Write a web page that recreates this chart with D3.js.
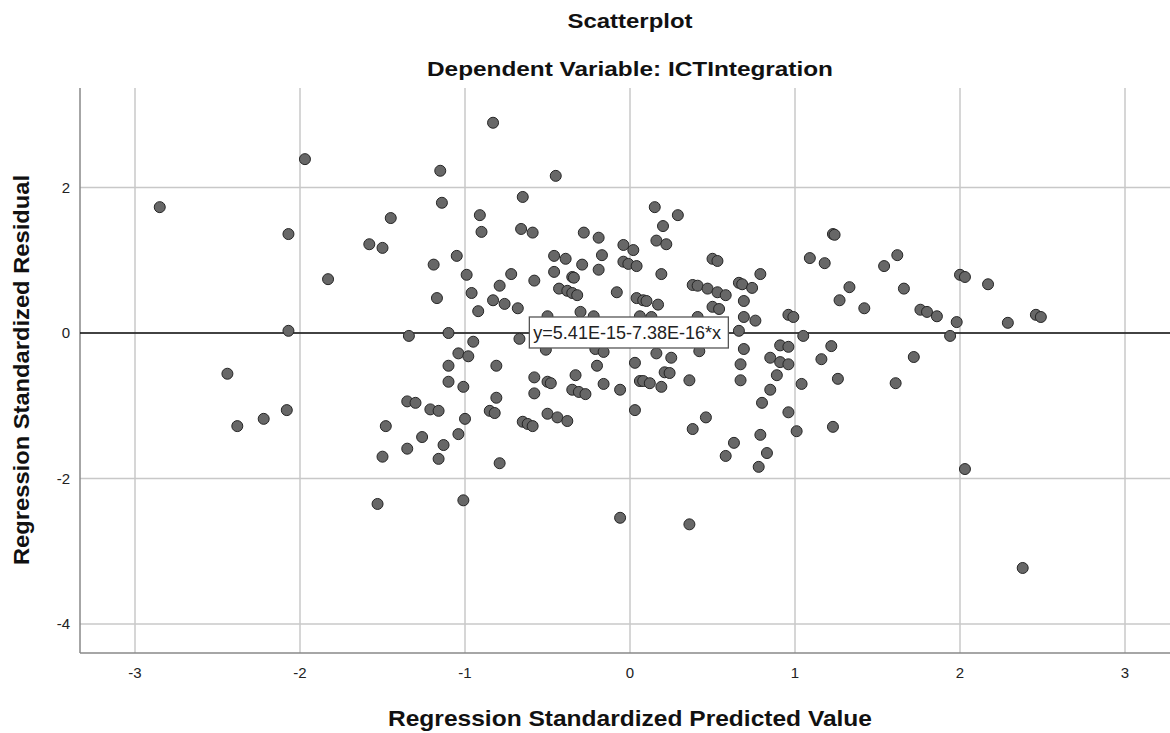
<!DOCTYPE html>
<html lang="en">
<head>
<meta charset="UTF-8">
<title>Scatterplot</title>
<script src="https://d3js.org/d3.v7.min.js"></script>
<style>
  body { margin: 0; background: #fff; }
  svg { display: block; font-family: Arial, "Liberation Sans", sans-serif; }
</style>
</head>
<body>
<svg id="chart" width="1170" height="733"></svg>
<script>
// Regression Standardized Predicted Value
const predicted = [
  -1.97, -2.85, -2.07, -1.83, -2.07, -2.44, -2.08, -2.22, -2.38,
  -0.83, -1.15, -0.45, -1.14, -0.65, -1.45, -0.91, -0.90, -1.58, -1.50,
  -0.66, -0.59, -0.28, -0.19, -0.04, 0.02, -1.19, -1.05, -0.46, -0.39,
  -0.29, -0.17, -0.19, -0.04, -0.01, 0.04, -0.99, -0.72, -0.46, -0.35,
  -0.34, -0.79, -0.58, -0.96, -1.17, -0.43, -0.38, -0.35, -0.32, -0.08,
  0.04, 0.08, 0.10, -0.83, -0.76, -0.68, -0.92, -0.50, -0.30, -0.22,
  -1.34, -1.10, -0.95, -0.67,
  -0.51, -1.04, -0.98, -1.10, -0.81, -0.21, -0.16, 0.03, -1.10, -1.01,
  -0.58, -0.50, -0.48, -0.33, -0.20, -0.16, 0.06, -0.58, -0.35, -0.31,
  -0.27, -0.06, -1.35, -1.30, -1.21, -1.16, -0.81, -0.85, -0.82, -0.65,
  -0.62, -0.59, -0.50, -0.44, -0.38, 0.03, -1.00, -1.48, -1.26, -1.04,
  -1.35, -1.13, -1.50, -1.16, -0.79, -1.53, -1.01, -0.06,
  0.15, 0.29, 0.20, 0.16, 0.22, 0.50, 0.53, 0.19, 0.38, 0.41, 0.47,
  0.53, 0.58, 0.66, 0.68, 0.74, 0.79, 0.69, 0.17, 0.50, 0.54, 0.41,
  0.69, 0.76, 0.96, 0.99, 0.66, 1.05, 1.23, 1.24, 1.09, 1.18, 1.54,
  1.62, 1.33, 1.27, 1.42, 1.66, 1.76, 0.06, 0.13,
  2.00, 2.03, 2.17, 1.80, 1.86, 1.98, 2.29, 2.46, 2.49, 1.94,
  0.42, 0.16, 0.25, 0.69, 0.91, 0.96, 1.22, 1.16, 1.72, 0.67, 0.85,
  0.91, 0.96, 0.08, 0.12, 0.19, 0.21, 0.24, 0.36, 0.67, 0.89, 1.04,
  0.85, 1.26, 1.61, 0.80, 0.96, 0.46, 0.38, 1.01, 1.23, 0.63, 0.79,
  0.83, 0.58, 0.78, 0.36, 2.03, 2.38
];

// Regression Standardized Residual
const residual = [
  2.39, 1.73, 1.36, 0.74, 0.03, -0.56, -1.06, -1.18, -1.28,
  2.89, 2.23, 2.16, 1.79, 1.87, 1.58, 1.62, 1.39, 1.22, 1.17,
  1.43, 1.38, 1.38, 1.31, 1.21, 1.14, 0.94, 1.06, 1.06, 1.02,
  0.94, 1.07, 0.87, 0.98, 0.95, 0.92, 0.80, 0.81, 0.84, 0.77,
  0.76, 0.65, 0.72, 0.55, 0.48, 0.61, 0.58, 0.55, 0.52, 0.56,
  0.48, 0.45, 0.44, 0.45, 0.40, 0.34, 0.30, 0.23, 0.29, 0.23,
  -0.04, 0.00, -0.12, -0.08,
  -0.23, -0.28, -0.32, -0.45, -0.45, -0.22, -0.26, -0.41, -0.67, -0.74,
  -0.61, -0.67, -0.69, -0.58, -0.45, -0.70, -0.66, -0.83, -0.78, -0.81,
  -0.84, -0.78, -0.94, -0.96, -1.05, -1.07, -0.89, -1.07, -1.10, -1.22,
  -1.25, -1.28, -1.11, -1.16, -1.21, -1.06, -1.18, -1.28, -1.43, -1.39,
  -1.59, -1.54, -1.70, -1.73, -1.79, -2.35, -2.30, -2.54,
  1.73, 1.62, 1.47, 1.27, 1.22, 1.02, 0.99, 0.81, 0.66, 0.65, 0.61,
  0.56, 0.52, 0.69, 0.67, 0.62, 0.81, 0.44, 0.39, 0.36, 0.33, 0.22,
  0.22, 0.17, 0.25, 0.22, 0.03, -0.04, 1.36, 1.35, 1.03, 0.96, 0.92,
  1.07, 0.63, 0.45, 0.34, 0.61, 0.32, 0.23, 0.22,
  0.80, 0.77, 0.67, 0.29, 0.23, 0.15, 0.14, 0.25, 0.22, -0.04,
  -0.25, -0.28, -0.34, -0.22, -0.17, -0.19, -0.18, -0.36, -0.33, -0.43, -0.34,
  -0.40, -0.43, -0.66, -0.69, -0.74, -0.54, -0.55, -0.65, -0.65, -0.58, -0.70,
  -0.78, -0.63, -0.69, -0.96, -1.09, -1.16, -1.32, -1.35, -1.29, -1.51, -1.40,
  -1.65, -1.69, -1.84, -2.63, -1.87, -3.23
];

const xTicks = [-3, -2, -1, 0, 1, 2, 3];
const yTicks = [-4, -2, 0, 2];

// fit line shown in the box
const intercept = 5.41E-15;
const slope = -7.38E-16;
const fitLabel = "y=5.41E-15-7.38E-16*x";

const titleText = "Scatterplot";
const subtitleText = "Dependent Variable: ICTIntegration";
const xLabel = "Regression Standardized Predicted Value";
const yLabel = "Regression Standardized Residual";

const svg = d3.select("#chart");

const plot = { left: 80, right: 1170, top: 88, bottom: 653 };

const x = d3.scaleLinear().domain([-3, 3]).range([135, 1125]);
const y = d3.scaleLinear().domain([-4, 2]).range([624, 187.5]);

const points = predicted.map((p, i) => [p, residual[i]]);

// grid
svg.append("g")
  .selectAll("line")
  .data(xTicks)
  .enter()
  .append("line")
  .attr("x1", d => x(d)).attr("x2", d => x(d))
  .attr("y1", plot.top).attr("y2", plot.bottom)
  .attr("stroke", "#c8c8c8")
  .attr("stroke-width", 1.5);

svg.append("g")
  .selectAll("line")
  .data(yTicks)
  .enter()
  .append("line")
  .attr("x1", plot.left).attr("x2", plot.right)
  .attr("y1", d => y(d)).attr("y2", d => y(d))
  .attr("stroke", "#c8c8c8")
  .attr("stroke-width", 1.5);

// axes frame (left and bottom)
svg.append("line")
  .attr("x1", plot.left).attr("x2", plot.left)
  .attr("y1", plot.top).attr("y2", plot.bottom)
  .attr("stroke", "#888").attr("stroke-width", 1.5);
svg.append("line")
  .attr("x1", plot.left).attr("x2", plot.right)
  .attr("y1", plot.bottom).attr("y2", plot.bottom)
  .attr("stroke", "#888").attr("stroke-width", 1.5);

// tick labels
svg.append("g")
  .selectAll("text")
  .data(xTicks)
  .enter()
  .append("text")
  .attr("x", d => x(d))
  .attr("y", 678)
  .attr("text-anchor", "middle")
  .attr("font-size", 15)
  .attr("fill", "#222")
  .text(d => d);

svg.append("g")
  .selectAll("text")
  .data(yTicks)
  .enter()
  .append("text")
  .attr("x", 70)
  .attr("y", d => y(d) + 5)
  .attr("text-anchor", "end")
  .attr("font-size", 15)
  .attr("fill", "#222")
  .text(d => d);

// fit line
const xMin = x.invert(plot.left), xMax = x.invert(plot.right);
svg.append("line")
  .attr("x1", plot.left).attr("x2", plot.right)
  .attr("y1", y(intercept + slope * xMin))
  .attr("y2", y(intercept + slope * xMax))
  .attr("stroke", "#111")
  .attr("stroke-width", 1.3);

// points
svg.append("g")
  .selectAll("circle")
  .data(points)
  .enter()
  .append("circle")
  .attr("cx", d => x(d[0]))
  .attr("cy", d => y(d[1]))
  .attr("r", 5.5)
  .attr("fill", "#676767")
  .attr("stroke", "#262626")
  .attr("stroke-width", 1);

// equation box
const box = svg.append("g").attr("transform", `translate(${x(-0.61)},${y(0.22)})`);
box.append("rect")
  .attr("width", 199).attr("height", 31)
  .attr("fill", "#fff")
  .attr("stroke", "#555").attr("stroke-width", 1.3);
box.append("text")
  .attr("x", 4).attr("y", 22)
  .attr("font-size", 18)
  .attr("fill", "#222")
  .text(fitLabel);

// titles (SPSS renders these wider than Arial, so stretch to the measured width)
function label(txt, px, py, size, width, rotate) {
  const t = svg.append("text")
    .attr("text-anchor", "middle")
    .attr("font-size", size).attr("font-weight", "bold")
    .attr("fill", "#111")
    .attr("textLength", width)
    .attr("lengthAdjust", "spacingAndGlyphs")
    .text(txt);
  if (rotate) t.attr("transform", `translate(${px},${py}) rotate(-90)`);
  else t.attr("x", px).attr("y", py);
}

label(titleText, 630, 28, 21, 125, false);
label(subtitleText, 630, 76, 21, 406, false);
label(xLabel, 630, 726, 22, 484, false);
label(yLabel, 29, 370, 22, 390, true);
</script>
</body>
</html>
